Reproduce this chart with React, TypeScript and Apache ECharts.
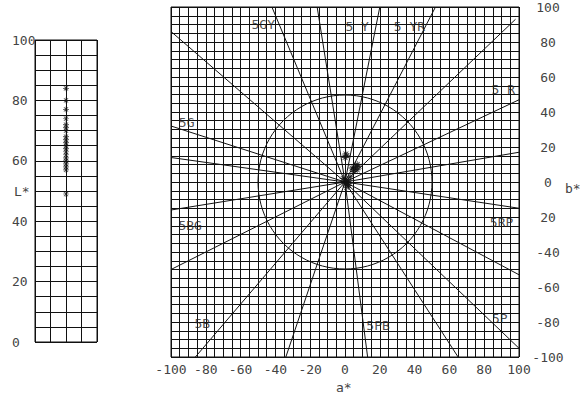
import React, { useEffect, useRef } from "react";
import * as echarts from "echarts";

// L* values of the samples (left panel)
const lValues = [84, 80, 77, 74, 72, 71, 70, 68, 67, 66, 65, 64, 63, 62, 61, 60, 59, 58, 57, 49];
// a*, b* of the same samples (right panel)
const aValues = [0, 1, 0.5, 5, 6, 7, 8, 5, 4, 6, 7, 2, 1, 0, -1, 2, 3, 1, 0, 2];
const bValues = [14, 15, 16, 7, 8, 10, 9, 6, 8, 9, 7, 1, 0, -1, 2, -2, 3, -3, 1, -1];

// Munsell hue lines: end points (a*, b*) of the rays from the origin
const hueLineEnds: [number, number][] = [
  [100, 17], [100, 47], [98, 93], [52, 100], [20, 100], [-16, 100], [-42, 100],
  [-100, 86], [-100, 32], [-100, 14], [-100, -16], [-100, -50], [-86, -100],
  [-34, -100], [13, -100], [65, -100], [100, -95], [100, -53], [100, -15],
];
// Munsell hue labels and their (a*, b*) positions
const hueLabelNames = ["5GY", "5 Y", "5 YR", "5 R", "5G", "5BG", "5B", "5PB", "5P", "5RP"];
const hueLabelA = [-47, 7, 37, 91, -91, -89, -82, 19, 89, 90];
const hueLabelB = [90, 89, 89, 53, 34, -25, -81, -82, -78, -23];
// chroma reference circle
const circleRadius = 50;

// tick labels
const lTicks = [0, 20, 40, 60, 80, 100];
const lTickLabels = ["0", "20", "40", "60", "80", "100"];
const aTicks = [-100, -80, -60, -40, -20, 0, 20, 40, 60, 80, 100];
const aTickLabels = ["-100", "-80", "-60", "-40", "-20", "0", "20", "40", "60", "80", "100"];
const bTicks = [-100, -80, -60, -40, -20, 0, 20, 40, 60, 80, 100];
const bTickLabels = ["-100", "-80", "-60", "-40", "20", "0", "20", "40", "60", "80", "100"];

const FONT = "DejaVu Sans Mono";
const INK = "#111";
const TEXT = "#444";

const ASTERISK =
  "path://M-0.7,-6 L0.7,-6 L0.7,6 L-0.7,6 Z M-6,-0.7 L6,-0.7 L6,0.7 L-6,0.7 Z " +
  "M-4.74,-3.75 L-3.75,-4.74 L4.74,3.75 L3.75,4.74 Z M3.75,-4.74 L4.74,-3.75 L-3.75,4.74 L-4.74,3.75 Z";

export default function App() {
  const ref = useRef<HTMLDivElement>(null);
  useEffect(() => {
    if (!ref.current) return;
    const chart = echarts.init(ref.current, null, { renderer: "svg" });
    const labelStyle = { fontFamily: FONT, fontSize: 13, color: TEXT };
    chart.setOption({
      animation: false,
      backgroundColor: "#fff",
      grid: [
        { left: 35, top: 40, width: 62, height: 302, show: true, borderColor: INK, borderWidth: 1, backgroundColor: "transparent" },
        { left: 171, top: 7, width: 348, height: 350, show: true, borderColor: INK, borderWidth: 1, backgroundColor: "transparent" },
      ],
      xAxis: [
        {
          gridIndex: 0, type: "value", min: -2, max: 2, interval: 1,
          axisLine: { show: false }, axisTick: { show: false }, axisLabel: { show: false },
          splitLine: { show: true, lineStyle: { color: INK, width: 1 } },
        },
        {
          gridIndex: 1, type: "value", min: -100, max: 100, interval: 20,
          axisLine: { show: false }, axisTick: { show: false },
          minorTick: { show: false, splitNumber: 4 },
          splitLine: { show: true, lineStyle: { color: INK, width: 1 } },
          minorSplitLine: { show: true, lineStyle: { color: INK, width: 1 } },
          axisLabel: {
            ...labelStyle, margin: 6,
            formatter: (v: number) => { const i = aTicks.indexOf(v); return i >= 0 ? aTickLabels[i] : ""; },
          },
        },
      ],
      yAxis: [
        {
          gridIndex: 0, type: "value", min: 0, max: 100, interval: 20,
          axisLine: { show: false }, axisTick: { show: false },
          minorTick: { show: false, splitNumber: 4 },
          splitLine: { show: true, lineStyle: { color: INK, width: 1 } },
          minorSplitLine: { show: true, lineStyle: { color: INK, width: 1 } },
          axisLabel: {
            ...labelStyle, align: "left", margin: 23,
            formatter: (v: number) => { const i = lTicks.indexOf(v); return i >= 0 ? lTickLabels[i] : ""; },
          },
        },
        {
          gridIndex: 1, type: "value", position: "right", min: -100, max: 100, interval: 20,
          axisLine: { show: false }, axisTick: { show: false },
          minorTick: { show: false, splitNumber: 4 },
          splitLine: { show: true, lineStyle: { color: INK, width: 1 } },
          minorSplitLine: { show: true, lineStyle: { color: INK, width: 1 } },
          axisLabel: {
            ...labelStyle, align: "center", margin: 29, padding: [12, 0, 0, 0],
            formatter: (v: number) => { const i = bTicks.indexOf(v); return i >= 0 ? bTickLabels[i] : ""; },
          },
        },
      ],
      series: [
        {
          type: "scatter", xAxisIndex: 0, yAxisIndex: 0,
          symbol: ASTERISK, symbolSize: 6,
          itemStyle: { color: INK },
          data: lValues.map((l) => [0, l]),
        },
        {
          type: "lines", coordinateSystem: "cartesian2d", xAxisIndex: 1, yAxisIndex: 1,
          lineStyle: { color: INK, width: 1, opacity: 1, curveness: 0 },
          data: hueLineEnds.map((e) => ({ coords: [[0, 0], e] })),
        },
        {
          type: "custom", xAxisIndex: 1, yAxisIndex: 1,
          data: [[0, 0, circleRadius]],
          renderItem: (params: any, api: any) => {
            const c = api.coord([api.value(0), api.value(1)]);
            const r = api.size([api.value(2), 0])[0];
            return {
              type: "circle",
              shape: { cx: c[0], cy: c[1], r },
              style: { fill: "none", stroke: INK, lineWidth: 1 },
            };
          },
        },
        {
          type: "scatter", xAxisIndex: 1, yAxisIndex: 1,
          symbol: ASTERISK, symbolSize: 7,
          itemStyle: { color: INK },
          data: aValues.map((a, i) => [a, bValues[i]]),
        },
        {
          type: "scatter", xAxisIndex: 1, yAxisIndex: 1,
          symbolSize: 1, itemStyle: { color: "transparent" },
          label: { show: true, position: "inside", formatter: "{b}", ...labelStyle, color: "#222" },
          data: hueLabelNames.map((n, i) => ({ name: n, value: [hueLabelA[i], hueLabelB[i]] })),
        },
      ],
      graphic: [
        { type: "text", left: 14, top: 185, style: { text: "L*", font: `13px ${FONT}`, fill: TEXT } },
        { type: "text", left: 336, top: 381, style: { text: "a*", font: `13px ${FONT}`, fill: TEXT } },
        { type: "text", left: 565, top: 182, style: { text: "b*", font: `13px ${FONT}`, fill: TEXT } },
      ],
    });
    return () => chart.dispose();
  }, []);
  return (
    <div
      ref={ref}
      style={{ position: "fixed", left: 0, top: 0, width: 587, height: 397, background: "#fff" }}
    />
  );
}
